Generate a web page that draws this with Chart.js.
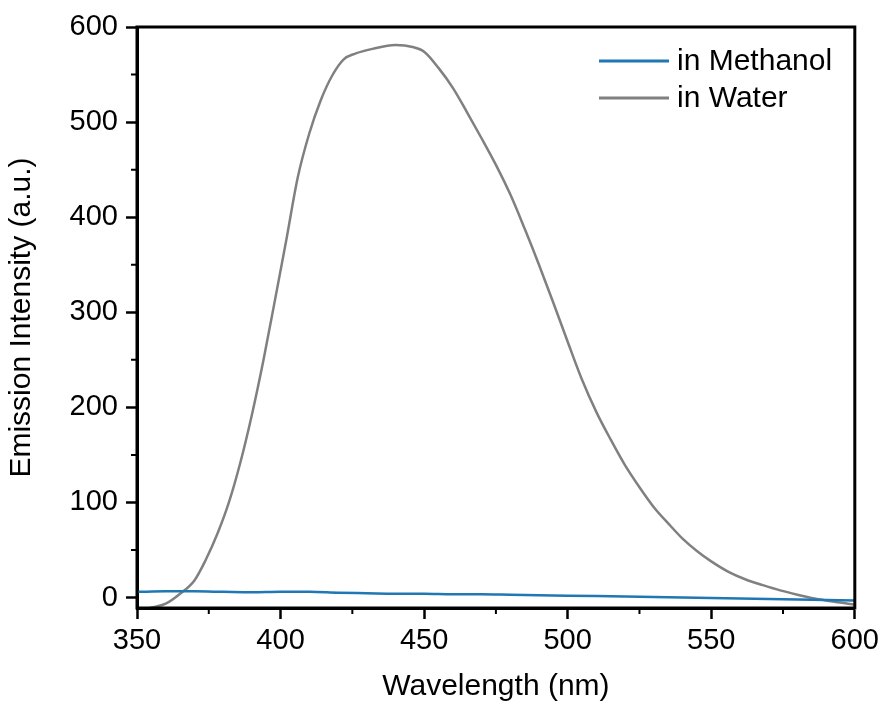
<!DOCTYPE html>
<html>
<head>
<meta charset="utf-8">
<script src="https://cdn.jsdelivr.net/npm/chart.js@4.4.1/dist/chart.umd.min.js"></script>
<style>
  html, body { margin: 0; padding: 0; background: #fff; }
  #wrap { width: 884px; height: 706px; }
</style>
</head>
<body>
<div id="wrap"><canvas id="myChart" width="884" height="706"></canvas></div>
<script>
// data
var seriesNames = ['in Methanol', 'in Water'];

var methanolX = [350, 360, 370, 380, 390, 400, 410, 420, 430, 440, 450, 460, 470, 480, 490, 500, 510, 520, 530, 540, 550, 560, 570, 580, 590, 600];
var methanolY = [6, 6.5, 6.5, 6, 5.5, 6, 6, 5, 4.5, 4, 4, 3.5, 3.5, 3, 2.5, 2, 1.5, 1, 0.5, 0, -0.5, -1, -1.5, -2, -2.5, -3];

var waterX = [350, 353, 356, 360, 365, 370, 374, 378, 382, 386, 390, 394, 398, 402, 406, 410, 414, 418, 422, 426, 432, 440, 446, 450, 455, 460, 465, 470, 475, 480, 485, 490, 495, 500, 505, 510, 515, 520, 525, 530, 535, 540, 545, 550, 556, 562, 568, 574, 580, 586, 593, 600];
var waterY = [-14, -12, -10, -6.5, 4, 18, 40, 67, 100, 142, 192, 249, 312, 376, 442, 488, 523, 549, 566, 572, 577, 581, 579, 574, 557, 536, 510, 483, 455, 424, 388, 350, 310, 269, 229, 195, 166, 139, 116, 95, 78, 62, 49, 38, 27, 19, 13, 7.5, 3, -1, -4.5, -7.5];

var xTicks = [350, 400, 450, 500, 550, 600];
var yTicks = [0, 100, 200, 300, 400, 500, 600];

function toPoints(xs, ys) {
  return xs.map(function (x, i) { return { x: x, y: ys[i] }; });
}

var FONT = "'Liberation Sans', Arial, sans-serif";

// frame, minor ticks and legend drawn on top
var framePlugin = {
  id: 'frame',
  afterDraw: function (chart) {
    var ctx = chart.ctx;
    var a = chart.chartArea;
    var sx = chart.scales.x, sy = chart.scales.y;
    ctx.save();
    ctx.strokeStyle = '#000';
    ctx.lineWidth = 3;
    ctx.strokeRect(a.left, a.top, a.right - a.left, a.bottom - a.top);

    // minor ticks
    ctx.lineWidth = 2;
    ctx.beginPath();
    for (var i = 0; i < xTicks.length - 1; i++) {
      var px = sx.getPixelForValue((xTicks[i] + xTicks[i + 1]) / 2);
      ctx.moveTo(px, a.bottom);
      ctx.lineTo(px, a.bottom + 6);
    }
    for (var j = 0; j < yTicks.length - 1; j++) {
      var py = sy.getPixelForValue((yTicks[j] + yTicks[j + 1]) / 2);
      ctx.moveTo(a.left, py);
      ctx.lineTo(a.left - 6, py);
    }
    ctx.stroke();

    // legend
    ctx.font = '30px ' + FONT;
    ctx.textBaseline = 'middle';
    ctx.fillStyle = '#000';
    chart.data.datasets.forEach(function (ds, k) {
      var y = 61 + k * 37;
      ctx.strokeStyle = ds.borderColor;
      ctx.lineWidth = 3;
      ctx.beginPath();
      ctx.moveTo(599, y);
      ctx.lineTo(669, y);
      ctx.stroke();
      ctx.fillText(ds.label, 677, y + 1);
    });
    ctx.restore();
  }
};

var ctx = document.getElementById('myChart').getContext('2d');
var myChart = new Chart(ctx, {
  type: 'line',
  data: {
    datasets: [{
      label: seriesNames[0],
      data: toPoints(methanolX, methanolY),
      borderColor: '#1f77b4',
      borderWidth: 2.5,
      pointRadius: 0,
      cubicInterpolationMode: 'monotone'
    }, {
      label: seriesNames[1],
      data: toPoints(waterX, waterY),
      borderColor: '#808080',
      borderWidth: 2.5,
      pointRadius: 0,
      cubicInterpolationMode: 'monotone'
    }]
  },
  options: {
    responsive: false,
    animation: false,
    layout: { padding: { left: 0, top: 27, right: 27, bottom: 0 } },
    plugins: { legend: { display: false }, tooltip: { enabled: false } },
    scales: {
      x: {
        type: 'linear',
        min: 350,
        max: 600,
        afterBuildTicks: function (s) { s.ticks = xTicks.map(function (v) { return { value: v }; }); },
        afterFit: function (s) { s.height = 98; },
        grid: { drawOnChartArea: false, tickLength: 11, tickWidth: 2.5, tickColor: '#000' },
        border: { color: '#000', width: 3 },
        ticks: { color: '#000', font: { family: FONT, size: 29 }, padding: 5, maxRotation: 0 },
        title: { display: true, text: 'Wavelength (nm)', color: '#000', font: { family: FONT, size: 30 }, padding: { top: 0, bottom: 1 } }
      },
      y: {
        min: -11,
        max: 600,
        afterBuildTicks: function (s) { s.ticks = yTicks.map(function (v) { return { value: v }; }); },
        afterFit: function (s) { s.width = 137; },
        grid: { drawOnChartArea: false, tickLength: 11, tickWidth: 2.5, tickColor: '#000' },
        border: { color: '#000', width: 3 },
        ticks: { color: '#000', font: { family: FONT, size: 29 }, padding: 8 },
        title: { display: true, text: 'Emission Intensity (a.u.)', color: '#000', font: { family: FONT, size: 30 }, padding: { top: 4, bottom: 0 } }
      }
    }
  },
  plugins: [framePlugin]
});
</script>
</body>
</html>
